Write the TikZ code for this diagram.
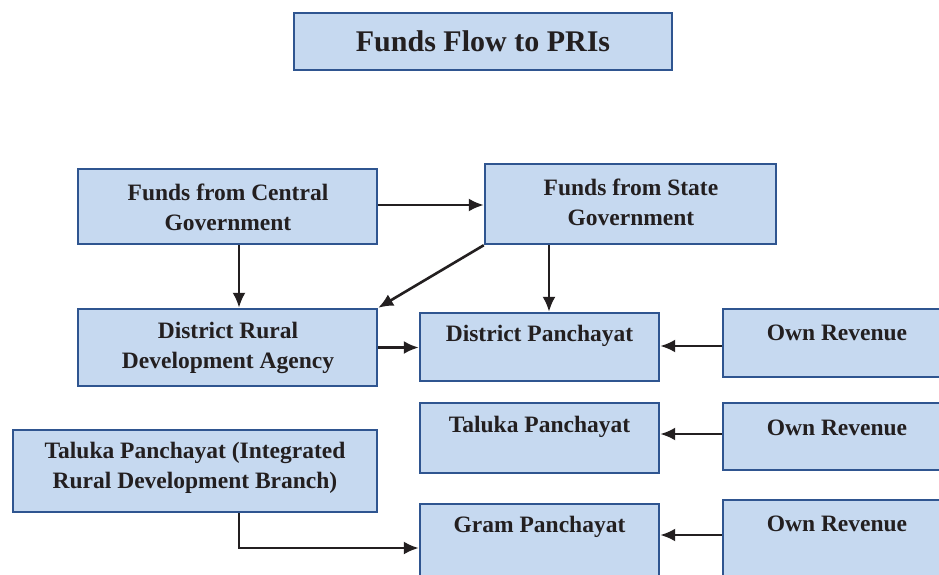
\documentclass[tikz,border=0pt]{standalone}
\usepackage{fontspec}
\setmainfont{Liberation Serif}
\usetikzlibrary{arrows.meta}
\definecolor{boxfill}{HTML}{C6D9F0}
\definecolor{boxline}{HTML}{2F5590}
\definecolor{ink}{HTML}{231F20}
\tikzset{
  box/.style={draw=boxline, line width=2.4pt, fill=boxfill, rectangle, inner sep=0pt},
  lbl/.style={text=ink, font=\bfseries\fontsize{23.5}{30}\selectfont, align=center, inner sep=0pt},
  conn/.style={draw=ink, line width=2.6pt, -{Latex[length=15pt,width=13pt]}}
}
\begin{document}
\begin{tikzpicture}[x=1pt,y=-1pt]
\clip (0,0) rectangle (939,574);
\fill[white] (0,0) rectangle (939,574);
% title
\node[box, minimum width=378, minimum height=57] (title) at (483,41.5) {};
\node[text=ink, font=\bfseries\fontsize{30}{36}\selectfont, inner sep=0pt] (titletext) at (483,41) {Funds Flow to PRIs};
% boxes
\node[box, minimum width=299, minimum height=75] (cen) at (227.5,206.5) {};
\node[box, minimum width=291, minimum height=80] (sta) at (630.5,204) {};
\node[box, minimum width=299, minimum height=77] (drda) at (227.5,347.5) {};
\node[box, minimum width=239, minimum height=68] (dp) at (539.5,347) {};
\node[box, minimum width=237, minimum height=68] (own1) at (841.5,343) {};
\node[box, minimum width=239, minimum height=70] (tp) at (539.5,438) {};
\node[box, minimum width=237, minimum height=67] (own2) at (841.5,436.5) {};
\node[box, minimum width=364, minimum height=82] (irdb) at (195,471) {};
\node[box, minimum width=239, minimum height=86] (gp) at (539.5,547) {};
\node[box, minimum width=237, minimum height=90] (own3) at (841.5,545) {};
% texts
\node[lbl] (centext) at (228,207) {Funds from Central\\Government};
\node[lbl] (statext) at (631,202) {Funds from State\\Government};
\node[lbl] (drdatext) at (228,347.5) {District Rural\\Development Agency};
\node[lbl] (dptext) at ([yshift=-24]dp.north) {District Panchayat};
\node[lbl] (own1text) at (837,333) {Own Revenue};
\node[lbl] (tptext) at ([yshift=-25]tp.north) {Taluka Panchayat};
\node[lbl] (own2text) at (837,428) {Own Revenue};
\node[lbl] (irdbtext) at (195,467.5) {Taluka Panchayat (Integrated\\Rural Development Branch)};
\node[lbl] (gptext) at ([yshift=-24]gp.north) {Gram Panchayat};
\node[lbl] (own3text) at (837,524) {Own Revenue};
% connectors
\draw[conn] ([yshift=1.5]cen.east) -- ([yshift=1.5]cen.east -| sta.west);
\draw[conn] ([xshift=11.5]cen.south) -- ([xshift=11.5]drda.north);
\draw[conn] (sta.south west) -- (drda.north east);
\draw[conn] ([xshift=9.5]dp.north |- sta.south) -- ([xshift=9.5]dp.north);
\draw[conn] (drda.east) -- (drda.east -| dp.west);
\draw[conn] ([yshift=1]dp.east -| own1.west) -- ([yshift=1]dp.east);
\draw[conn] ([yshift=4]tp.east -| own2.west) -- ([yshift=4]tp.east);
\draw[conn] ([yshift=12]gp.east -| own3.west) -- ([yshift=12]gp.east);
\draw[conn] ([xshift=44]irdb.south) |- ([yshift=-1]gp.west);
\end{tikzpicture}
\end{document}
